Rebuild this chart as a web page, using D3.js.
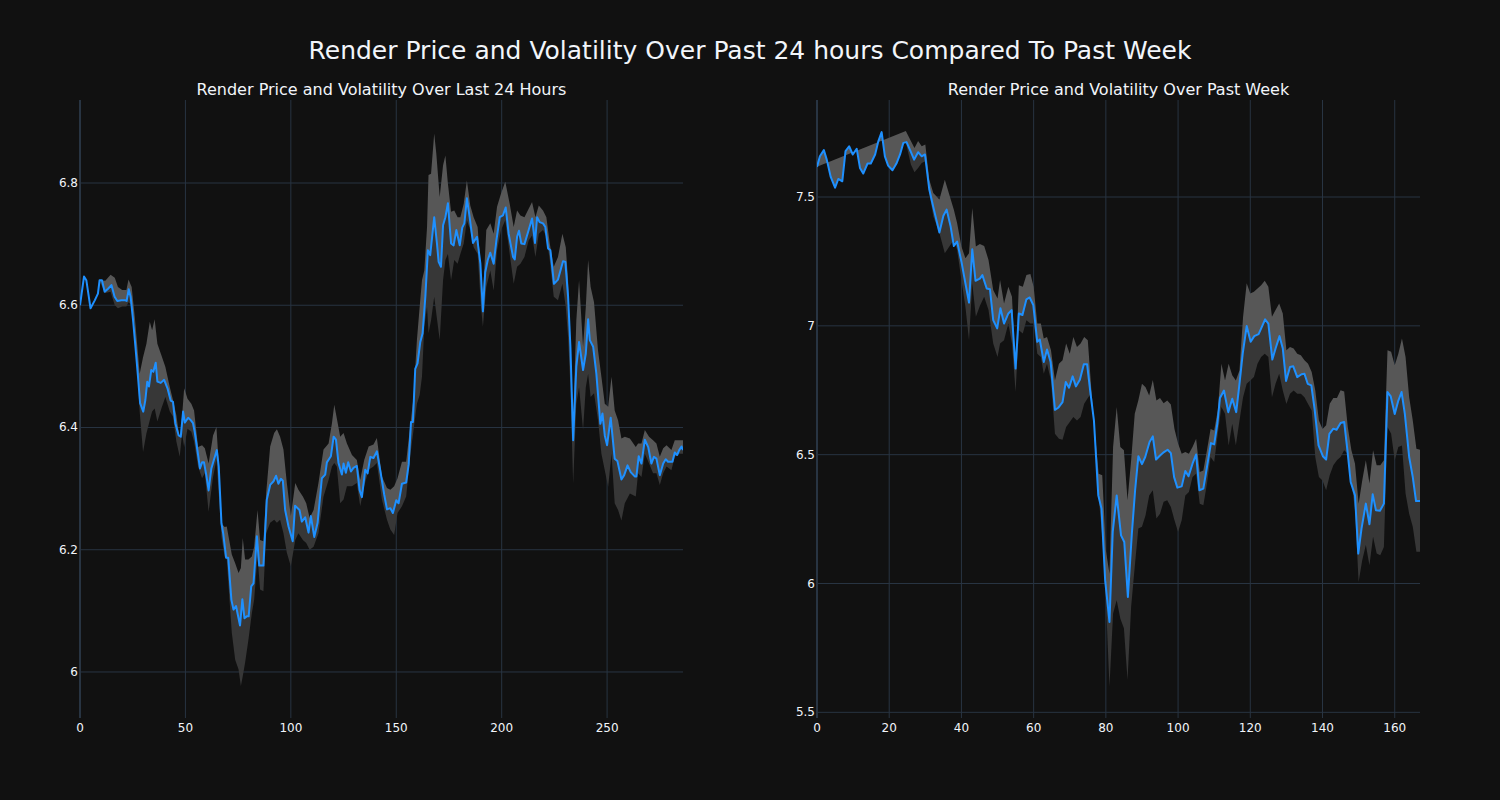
<!DOCTYPE html>
<html><head><meta charset="utf-8">
<script src="https://cdn.jsdelivr.net/npm/d3@7"></script>
<style>html,body{margin:0;padding:0;background:#111111;}svg{display:block;}</style>
</head><body><svg id="chart" width="1500" height="800"></svg>
<script>
// ---------- DATA ----------
const mainTitle = "Render Price and Volatility Over Past 24 hours Compared To Past Week";
const subTitles = ["Render Price and Volatility Over Last 24 Hours", "Render Price and Volatility Over Past Week"];

const dayXTicks = [0, 50, 100, 150, 200, 250];
const dayYTicks = [6, 6.2, 6.4, 6.6, 6.8];
const weekXTicks = [0, 20, 40, 60, 80, 100, 120, 140, 160];
const weekYTicks = [5.5, 6, 6.5, 7, 7.5];

// [index, price]
const dayPrice = [[0,6.600],[1.9,6.647],[3,6.641],[5,6.595],[7,6.608],[8.5,6.619],[9.3,6.641],[10.4,6.641],[11.7,6.622],[13.3,6.627],[14.9,6.633],[16.4,6.614],[17.7,6.607],[19.6,6.608],[21.5,6.608],[22.1,6.607],[23.1,6.626],[24,6.614],[25.2,6.575],[26.3,6.532],[27.5,6.483],[28.5,6.44],[30,6.426],[31,6.445],[31.9,6.475],[32.7,6.467],[33.8,6.494],[34.8,6.491],[35.9,6.506],[36.7,6.475],[38.3,6.473],[39.9,6.478],[41.5,6.464],[43,6.444],[44.1,6.442],[45.2,6.407],[46.8,6.387],[47.8,6.385],[48.9,6.426],[49.7,6.408],[51.3,6.416],[52.5,6.412],[53.6,6.407],[54.4,6.393],[56,6.355],[56.9,6.333],[57.9,6.343],[58.8,6.343],[59.9,6.322],[61,6.297],[62.3,6.333],[63.6,6.348],[64.9,6.363],[65.8,6.336],[67.1,6.243],[67.9,6.227],[69.3,6.187],[70.3,6.187],[71.8,6.118],[72.8,6.102],[74,6.108],[75.9,6.076],[77,6.119],[78,6.088],[79.1,6.091],[80,6.091],[81.2,6.140],[82.3,6.145],[83.9,6.222],[85,6.174],[87,6.174],[88.6,6.282],[90.2,6.306],[91.8,6.312],[93,6.321],[94.1,6.308],[95.3,6.316],[96.2,6.313],[97.3,6.265],[98.9,6.238],[100.9,6.214],[102,6.272],[104.1,6.265],[105.2,6.246],[106.8,6.253],[108.4,6.228],[109.5,6.255],[111.1,6.221],[112.7,6.244],[114.7,6.317],[116.3,6.323],[117.1,6.343],[119,6.353],[120.3,6.385],[121.4,6.380],[122.6,6.342],[124.2,6.323],[125,6.341],[126.1,6.326],[127.2,6.343],[128.5,6.328],[129.7,6.334],[131.3,6.337],[132.6,6.298],[133.7,6.286],[135.3,6.331],[136.4,6.325],[137.7,6.352],[139.2,6.350],[140.8,6.361],[142.4,6.33],[144.3,6.29],[145.6,6.266],[147.2,6.268],[148.4,6.26],[150,6.281],[151.1,6.276],[152.7,6.308],[154.7,6.31],[155.9,6.34],[157,6.409],[157.9,6.409],[159,6.496],[160.1,6.505],[161.4,6.540],[162.5,6.554],[163.8,6.614],[165,6.690],[166.1,6.682],[168,6.744],[169.3,6.701],[170.1,6.671],[171.2,6.663],[172.2,6.731],[173.3,6.744],[174.5,6.767],[176,6.701],[177.2,6.698],[178.5,6.723],[180.1,6.698],[181.3,6.727],[182.3,6.734],[183.5,6.775],[184.8,6.744],[186.4,6.702],[188.3,6.712],[189.9,6.668],[191.1,6.590],[192.2,6.654],[193.4,6.674],[194.6,6.686],[196.2,6.668],[197.5,6.706],[199.1,6.744],[200.6,6.747],[201.9,6.760],[203.3,6.717],[205.4,6.679],[206.2,6.675],[207.3,6.712],[208.2,6.722],[209.3,6.701],[210.8,6.700],[212.8,6.723],[214.4,6.742],[215.8,6.702],[216.8,6.744],[218,6.736],[219.6,6.734],[220.7,6.728],[222,6.693],[223.1,6.690],[224.8,6.635],[226.7,6.642],[229.1,6.672],[230.2,6.671],[231.5,6.614],[232.6,6.532],[233.9,6.379],[235.4,6.499],[236.7,6.540],[238.6,6.494],[239.9,6.521],[241,6.577],[241.8,6.543],[243.4,6.532],[244.9,6.488],[246.8,6.406],[247.8,6.423],[248.9,6.387],[250,6.371],[251.7,6.416],[253.6,6.349],[254.9,6.345],[256.8,6.315],[258.1,6.322],[259.7,6.338],[261.2,6.327],[263.1,6.320],[263.9,6.320],[265,6.353],[266.3,6.341],[267.9,6.380],[269.5,6.368],[271,6.341],[272.2,6.352],[273.4,6.349],[275,6.322],[276.6,6.341],[277.8,6.348],[278.9,6.344],[281,6.344],[282.1,6.359],[283.2,6.355],[284.2,6.363],[285.3,6.369],[286,6.363]];

const dayUpper = [[9,6.641],[12,6.64],[14.5,6.650],[16.5,6.645],[18,6.630],[20,6.625],[22,6.625],[23,6.642],[24.5,6.63],[26,6.58],[28.3,6.488],[29.9,6.515],[31.5,6.537],[33.1,6.573],[34.2,6.559],[35.4,6.577],[36.7,6.537],[38.6,6.518],[40.5,6.499],[42.6,6.466],[44.1,6.445],[45.7,6.42],[47.3,6.379],[48.4,6.418],[49.4,6.464],[51,6.447],[52.8,6.439],[54.1,6.428],[56,6.368],[57.9,6.371],[59.2,6.366],[61,6.341],[63.1,6.387],[64.7,6.401],[65.8,6.341],[67.1,6.243],[68.6,6.237],[69.6,6.238],[72,6.192],[73.6,6.178],[75.2,6.162],[76.3,6.17],[77.2,6.219],[78.3,6.184],[79.9,6.184],[81.5,6.189],[82.6,6.205],[84.2,6.265],[85.4,6.216],[87,6.214],[88.3,6.293],[90.2,6.369],[92.1,6.391],[93.4,6.397],[94.9,6.385],[96.5,6.364],[98.1,6.309],[100,6.255],[102.1,6.309],[103.6,6.298],[105.7,6.287],[107.3,6.276],[108.9,6.252],[110.8,6.265],[113.1,6.309],[115.5,6.364],[117.9,6.374],[119.5,6.407],[120.6,6.437],[121.8,6.415],[123.4,6.385],[125,6.391],[126.6,6.374],[129,6.355],[131.3,6.347],[132.9,6.314],[134.8,6.347],[136.9,6.369],[139.2,6.372],[140.8,6.383],[143.2,6.32],[145.6,6.301],[147.2,6.298],[149,6.304],[150.6,6.317],[152.7,6.344],[154.7,6.344],[156.6,6.402],[158.2,6.45],[159.8,6.543],[161.1,6.597],[162.2,6.641],[163.3,6.657],[164.6,6.728],[165.3,6.813],[166.5,6.815],[168,6.881],[169,6.848],[170.6,6.777],[172.2,6.829],[173.3,6.845],[174.5,6.799],[176,6.753],[177.5,6.755],[179.1,6.744],[180.4,6.744],[182,6.766],[183.5,6.804],[185.1,6.763],[186.7,6.744],[188.6,6.728],[190.2,6.652],[191.1,6.614],[192.7,6.723],[194.6,6.734],[196.2,6.717],[197.8,6.761],[199.7,6.783],[201.7,6.802],[203.8,6.766],[205.7,6.728],[207.3,6.755],[208.9,6.747],[210.8,6.744],[212.8,6.758],[214.4,6.769],[216,6.744],[217.6,6.763],[219.6,6.755],[221.2,6.744],[222.8,6.701],[224.7,6.663],[226.7,6.679],[228.8,6.717],[230.4,6.695],[231.5,6.641],[232.6,6.532],[233.9,6.412],[235.4,6.575],[236.7,6.641],[238.6,6.532],[239.9,6.597],[241,6.674],[242.2,6.630],[243.8,6.605],[245.7,6.526],[247.3,6.483],[248.9,6.439],[250.5,6.434],[252.1,6.483],[253.6,6.428],[255.2,6.412],[256.8,6.382],[258.4,6.385],[260.8,6.382],[263.6,6.368],[264.7,6.374],[266.3,6.374],[267.9,6.396],[269.9,6.385],[271.8,6.379],[273.4,6.374],[275,6.352],[276.6,6.366],[278.2,6.371],[280.5,6.363],[282.1,6.379],[284.2,6.379],[286,6.379]];

const dayLower = [[9,6.641],[12,6.62],[14.5,6.622],[16.5,6.60],[18,6.595],[20,6.598],[22,6.598],[23,6.605],[24.5,6.6],[26,6.57],[28.3,6.426],[29.9,6.36],[31.5,6.39],[33.1,6.412],[34.2,6.426],[35.4,6.431],[36.7,6.41],[38.6,6.431],[40.5,6.45],[42.6,6.426],[44.1,6.418],[45.7,6.377],[47.3,6.352],[48.4,6.39],[49.4,6.368],[51,6.398],[52.8,6.393],[54.1,6.377],[56,6.336],[57.9,6.317],[59.2,6.325],[61,6.262],[63.1,6.319],[64.7,6.347],[65.8,6.292],[67.1,6.221],[68.6,6.188],[69.6,6.184],[72,6.064],[73.6,6.02],[75.2,6.004],[76.3,5.977],[77.2,5.993],[78.3,6.015],[79.9,6.053],[81.5,6.096],[82.6,6.118],[84.2,6.189],[85.4,6.135],[87,6.132],[88.3,6.227],[90.2,6.244],[92.1,6.249],[93.4,6.244],[94.9,6.249],[96.5,6.227],[98.1,6.195],[100,6.173],[102.1,6.216],[103.6,6.227],[105.7,6.216],[107.3,6.211],[108.9,6.2],[110.8,6.205],[113.1,6.227],[115.5,6.287],[117.9,6.314],[119.5,6.336],[120.6,6.342],[121.8,6.336],[123.4,6.276],[125,6.282],[126.6,6.304],[129,6.304],[131.3,6.309],[132.9,6.271],[134.8,6.304],[136.9,6.331],[139.2,6.336],[140.8,6.342],[143.2,6.282],[145.6,6.249],[147.2,6.233],[149,6.224],[150.6,6.26],[152.7,6.271],[154.7,6.287],[156.6,6.353],[158.2,6.396],[159.8,6.439],[161.1,6.453],[162.2,6.483],[163.3,6.565],[164.6,6.597],[165.3,6.554],[166.5,6.575],[168,6.614],[169,6.586],[170.6,6.543],[172.2,6.641],[173.3,6.674],[174.5,6.684],[176,6.641],[177.5,6.674],[179.1,6.668],[180.4,6.684],[182,6.701],[183.5,6.739],[185.1,6.723],[186.7,6.695],[188.6,6.684],[190.2,6.597],[191.1,6.565],[192.7,6.63],[194.6,6.657],[196.2,6.624],[197.8,6.69],[199.7,6.723],[201.7,6.739],[203.8,6.684],[205.7,6.635],[207.3,6.663],[208.9,6.668],[210.8,6.679],[212.8,6.706],[214.4,6.714],[216,6.679],[217.6,6.717],[219.6,6.723],[221.2,6.712],[222.8,6.674],[224.7,6.614],[226.7,6.608],[228.8,6.635],[230.4,6.597],[231.5,6.548],[232.6,6.466],[233.9,6.308],[235.4,6.439],[236.7,6.466],[238.6,6.396],[239.9,6.466],[241,6.488],[242.2,6.45],[243.8,6.456],[245.7,6.412],[247.3,6.357],[248.9,6.33],[250.5,6.303],[252.1,6.357],[253.6,6.276],[255.2,6.265],[256.8,6.248],[258.4,6.276],[260.8,6.292],[263.6,6.287],[264.7,6.325],[266.3,6.319],[267.9,6.357],[269.9,6.341],[271.8,6.325],[273.4,6.325],[275,6.306],[276.6,6.325],[278.2,6.336],[280.5,6.33],[282.1,6.352],[284.2,6.357],[286,6.357]];

const weekPrice = [[0,7.617],[0.8,7.658],[1.9,7.682],[2.7,7.645],[3.8,7.578],[5,7.536],[5.9,7.570],[7,7.561],[7.9,7.678],[8.9,7.697],[9.9,7.665],[11,7.687],[11.9,7.613],[12.8,7.591],[14,7.630],[14.9,7.630],[16.1,7.665],[17,7.717],[17.9,7.752],[18.8,7.658],[19.7,7.622],[20.9,7.604],[22,7.630],[23,7.665],[23.9,7.710],[24.8,7.713],[25.9,7.678],[26.9,7.645],[28,7.674],[29,7.658],[29.9,7.665],[31.1,7.529],[32.2,7.461],[33.9,7.362],[35,7.427],[35.9,7.451],[37,7.386],[37.9,7.310],[38.8,7.327],[40,7.249],[41.1,7.165],[42.1,7.090],[43,7.297],[43.9,7.175],[45.1,7.183],[45.8,7.197],[47,7.145],[47.9,7.142],[48.8,7.022],[49.9,6.990],[50.8,7.068],[51.8,7.009],[53,7.048],[53.9,7.061],[55,6.834],[55.9,7.048],[56.9,7.042],[58,7.103],[58.9,7.110],[59.9,7.081],[61,6.938],[61.7,6.947],[62.8,6.860],[63.7,6.908],[64.7,6.860],[65.9,6.674],[66.8,6.682],[68,6.704],[68.9,6.782],[69.8,6.760],[70.8,6.804],[71.7,6.765],[72.8,6.791],[73.9,6.851],[74.8,6.851],[75.7,6.743],[76.7,6.632],[77.9,6.342],[78.8,6.29],[79.8,6.013],[81,5.851],[81.9,6.2],[83,6.342],[84.2,6.187],[85.1,6.161],[86.1,5.948],[87.2,6.194],[88.1,6.362],[89,6.494],[90,6.463],[90.9,6.491],[92.1,6.549],[93,6.571],[93.9,6.481],[95,6.497],[96.1,6.510],[97.1,6.519],[98,6.506],[98.9,6.413],[99.8,6.372],[101,6.377],[102,6.437],[102.9,6.416],[104,6.465],[105,6.501],[105.9,6.362],[107,6.368],[108,6.452],[109.1,6.545],[110,6.54],[110.9,6.623],[111.6,6.72],[112.7,6.749],[113.9,6.665],[115,6.717],[116.1,6.665],[117,6.775],[117.9,6.892],[119,6.999],[120.1,6.938],[121.1,6.96],[122.3,6.968],[123.2,6.996],[124.1,7.025],[125,7.009],[126.1,6.869],[127,6.912],[128.1,6.96],[129,6.912],[129.9,6.786],[131,6.84],[131.9,6.843],[133,6.801],[134.2,6.812],[135,6.814],[135.9,6.775],[136.9,6.769],[137.8,6.678],[138.9,6.536],[140.1,6.494],[141,6.481],[141.9,6.581],[143,6.601],[143.9,6.597],[145,6.623],[146,6.627],[146.9,6.517],[147.8,6.394],[149,6.342],[149.9,6.116],[150.8,6.213],[152,6.31],[153,6.23],[153.9,6.346],[154.8,6.284],[155.9,6.282],[157,6.31],[158,6.743],[158.9,6.726],[160,6.658],[161,6.71],[161.9,6.743],[162.8,6.658],[164,6.491],[165,6.413],[165.9,6.32],[167,6.32]];

const weekUpper = [[0,7.617],[24.6,7.756],[26,7.717],[27,7.69],[28,7.717],[29,7.697],[30,7.704],[31.1,7.567],[32.2,7.516],[33.9,7.49],[35.4,7.567],[37.9,7.451],[38.8,7.399],[40,7.308],[41.1,7.262],[42.1,7.282],[43,7.457],[44,7.308],[45.1,7.318],[46.3,7.31],[47.5,7.256],[48.8,7.139],[50,7.106],[50.7,7.178],[51.8,7.087],[53,7.152],[54,7.113],[55,6.827],[55.9,7.158],[57,7.152],[58,7.197],[59.1,7.201],[60,7.152],[61,7.009],[62,7.009],[62.8,6.951],[63.7,6.957],[64.8,6.905],[65.9,6.788],[67,6.853],[68,6.866],[69,6.931],[70,6.892],[71,6.957],[72,6.918],[73,6.931],[74,6.957],[75,6.944],[76,6.749],[77,6.58],[78,6.426],[79,6.42],[80,6.129],[81,6.038],[82,6.53],[83,6.685],[84,6.53],[85,6.517],[86,6.323],[87,6.478],[88,6.659],[89,6.711],[90,6.775],[91,6.762],[92,6.73],[93,6.79],[94,6.71],[95,6.72],[96,6.7],[97,6.71],[98,6.695],[99,6.6],[100,6.543],[101,6.504],[102,6.51],[103,6.504],[104,6.53],[105,6.562],[106,6.433],[107,6.439],[108,6.517],[109,6.6],[110,6.594],[111,6.672],[112,6.853],[113,6.788],[114,6.853],[115,6.808],[116,6.788],[117,6.827],[118,7.035],[119,7.165],[120,7.126],[121,7.132],[122,7.145],[123,7.158],[124,7.175],[125,7.152],[126,7.035],[127,7.061],[128,7.087],[129,7.048],[130,6.905],[131,6.918],[132,6.912],[133,6.892],[134,6.886],[135,6.866],[136,6.853],[137,6.821],[138,6.749],[139,6.633],[140,6.6],[141,6.614],[142,6.698],[143,6.72],[144,6.72],[145,6.75],[146,6.745],[147,6.607],[148,6.517],[149,6.465],[150,6.31],[151,6.4],[152,6.478],[153,6.388],[154,6.517],[155,6.459],[156,6.459],[157,6.478],[158,6.905],[159,6.899],[160,6.847],[161,6.892],[162,6.951],[163,6.879],[164,6.723],[165,6.633],[166,6.523],[167,6.519]];

const weekLower = [[24.6,7.713],[26,7.626],[27,7.596],[28,7.613],[29,7.632],[30,7.639],[31.1,7.516],[32.2,7.425],[33.9,7.36],[35.4,7.282],[37.9,7.334],[38.8,7.295],[40,7.178],[41.1,7.074],[42.1,6.944],[43,7.165],[44,7.035],[45.1,7.077],[46.3,7.113],[47.5,7.061],[48.8,6.931],[50,6.879],[50.7,6.931],[51.8,6.944],[53,7.009],[54,6.931],[55,6.743],[55.9,6.983],[57,6.97],[58,7.022],[59.1,7.009],[60,7.009],[61,6.892],[62,6.879],[62.8,6.814],[63.7,6.853],[64.8,6.788],[65.9,6.581],[67,6.562],[68,6.558],[69,6.607],[70,6.627],[71,6.646],[72,6.633],[73,6.646],[74,6.698],[75,6.72],[76,6.74],[77,6.555],[78,6.336],[79,6.181],[80,5.935],[81,5.6],[82,5.884],[83,5.935],[84,5.864],[85,5.826],[86,5.625],[87,5.91],[88,6.065],[89,6.213],[90,6.22],[91,6.265],[92,6.342],[93,6.362],[94,6.252],[95,6.271],[96,6.317],[97,6.323],[98,6.297],[99,6.245],[100,6.2],[101,6.245],[102,6.342],[103,6.355],[104,6.413],[105,6.426],[106,6.31],[107,6.304],[108,6.388],[109,6.491],[110,6.472],[111,6.581],[112,6.685],[113,6.659],[114,6.536],[115,6.62],[116,6.536],[117,6.632],[118,6.723],[119,6.775],[120,6.788],[121,6.801],[122,6.853],[123,6.879],[124,6.892],[125,6.879],[126,6.723],[127,6.775],[128,6.814],[129,6.749],[130,6.697],[131,6.736],[132,6.749],[133,6.736],[134,6.736],[135,6.723],[136,6.697],[137,6.671],[138,6.49],[139,6.413],[140,6.4],[141,6.362],[142,6.42],[143,6.459],[144,6.478],[145,6.491],[146,6.517],[147,6.504],[148,6.394],[149,6.284],[150,6.006],[151,6.09],[152,6.149],[153,6.071],[154,6.181],[155,6.116],[156,6.11],[157,6.142],[158,6.607],[159,6.581],[160,6.478],[161,6.53],[162,6.536],[163,6.349],[164,6.271],[165,6.22],[166,6.123],[167,6.123]];

// ---------- LAYOUT / STYLE ----------
const FONT = '"DejaVu Sans", Verdana, sans-serif';
const TXT = '#f2f5fa';
const GRID = '#283442';
const LINE = '#1e90ff';
const UPFILL = '#575757';
const LOWFILL = '#373737';
const plotTop = 100, plotBottom = 718;

const svg = d3.select('#chart');
svg.append('rect').attr('width', 1500).attr('height', 800).attr('fill', '#111111');

svg.append('text').attr('x', 750).attr('y', 50).attr('text-anchor', 'middle')
  .attr('dominant-baseline', 'central').attr('font-family', FONT).attr('font-size', 25)
  .attr('fill', TXT).text(mainTitle);

function panel(id, left, right, xDom, yDom, xTicks, yTicks, price, upper, lower, title) {
  const x = d3.scaleLinear().domain(xDom).range([left, right]);
  const y = d3.scaleLinear().domain(yDom).range([plotBottom, plotTop]);
  const g = svg.append('g');
  g.append('clipPath').attr('id', 'clip' + id).append('rect')
    .attr('x', left).attr('y', plotTop).attr('width', right - left).attr('height', plotBottom - plotTop);

  g.append('g').selectAll('line').data(yTicks).join('line')
    .attr('x1', left).attr('x2', right).attr('y1', d => y(d)).attr('y2', d => y(d))
    .attr('stroke', GRID).attr('stroke-width', 1);
  g.append('g').selectAll('line').data(xTicks.filter(d => d !== 0)).join('line')
    .attr('y1', plotTop).attr('y2', plotBottom).attr('x1', d => x(d)).attr('x2', d => x(d))
    .attr('stroke', GRID).attr('stroke-width', 1);
  g.append('line').attr('x1', x(0)).attr('x2', x(0)).attr('y1', plotTop).attr('y2', plotBottom)
    .attr('stroke', GRID).attr('stroke-width', 2);

  const line = d3.line().x(d => x(d[0])).y(d => y(d[1]));
  const inRange = (band) => {
    const a = band[0][0], b = band[band.length - 1][0];
    return price.filter(p => p[0] >= a && p[0] <= b);
  };
  const data = g.append('g').attr('clip-path', `url(#clip${id})`);
  const upPoly = upper.concat(inRange(upper).slice().reverse());
  data.append('path').attr('d', line(upPoly) + 'Z').attr('fill', UPFILL).attr('stroke', 'none');
  const lowPoly = inRange(lower).concat(lower.slice().reverse());
  data.append('path').attr('d', line(lowPoly) + 'Z').attr('fill', LOWFILL).attr('stroke', 'none');
  data.append('path').attr('d', line(price)).attr('fill', 'none')
    .attr('stroke', LINE).attr('stroke-width', 2).attr('stroke-linejoin', 'round');

  const fmt = d3.format('~g');
  g.append('g').selectAll('text').data(yTicks).join('text')
    .attr('x', left - 2).attr('y', d => y(d)).attr('text-anchor', 'end')
    .attr('dominant-baseline', 'central').attr('font-family', FONT).attr('font-size', 12)
    .attr('fill', TXT).text(fmt);
  g.append('g').selectAll('text').data(xTicks).join('text')
    .attr('x', d => x(d)).attr('y', 728).attr('text-anchor', 'middle')
    .attr('dominant-baseline', 'central').attr('font-family', FONT).attr('font-size', 12)
    .attr('fill', TXT).text(fmt);

  svg.append('text').attr('x', (left + right) / 2).attr('y', 89).attr('text-anchor', 'middle')
    .attr('dominant-baseline', 'central').attr('font-family', FONT).attr('font-size', 16)
    .attr('fill', TXT).text(title);
}

panel('a', 80, 683, [0, 286], [5.9247, 6.9358], dayXTicks, dayYTicks, dayPrice, dayUpper, dayLower, subTitles[0]);
panel('b', 817, 1420, [0, 167], [5.478, 7.8765], weekXTicks, weekYTicks, weekPrice, weekUpper, weekLower, subTitles[1]);
</script></body></html>
